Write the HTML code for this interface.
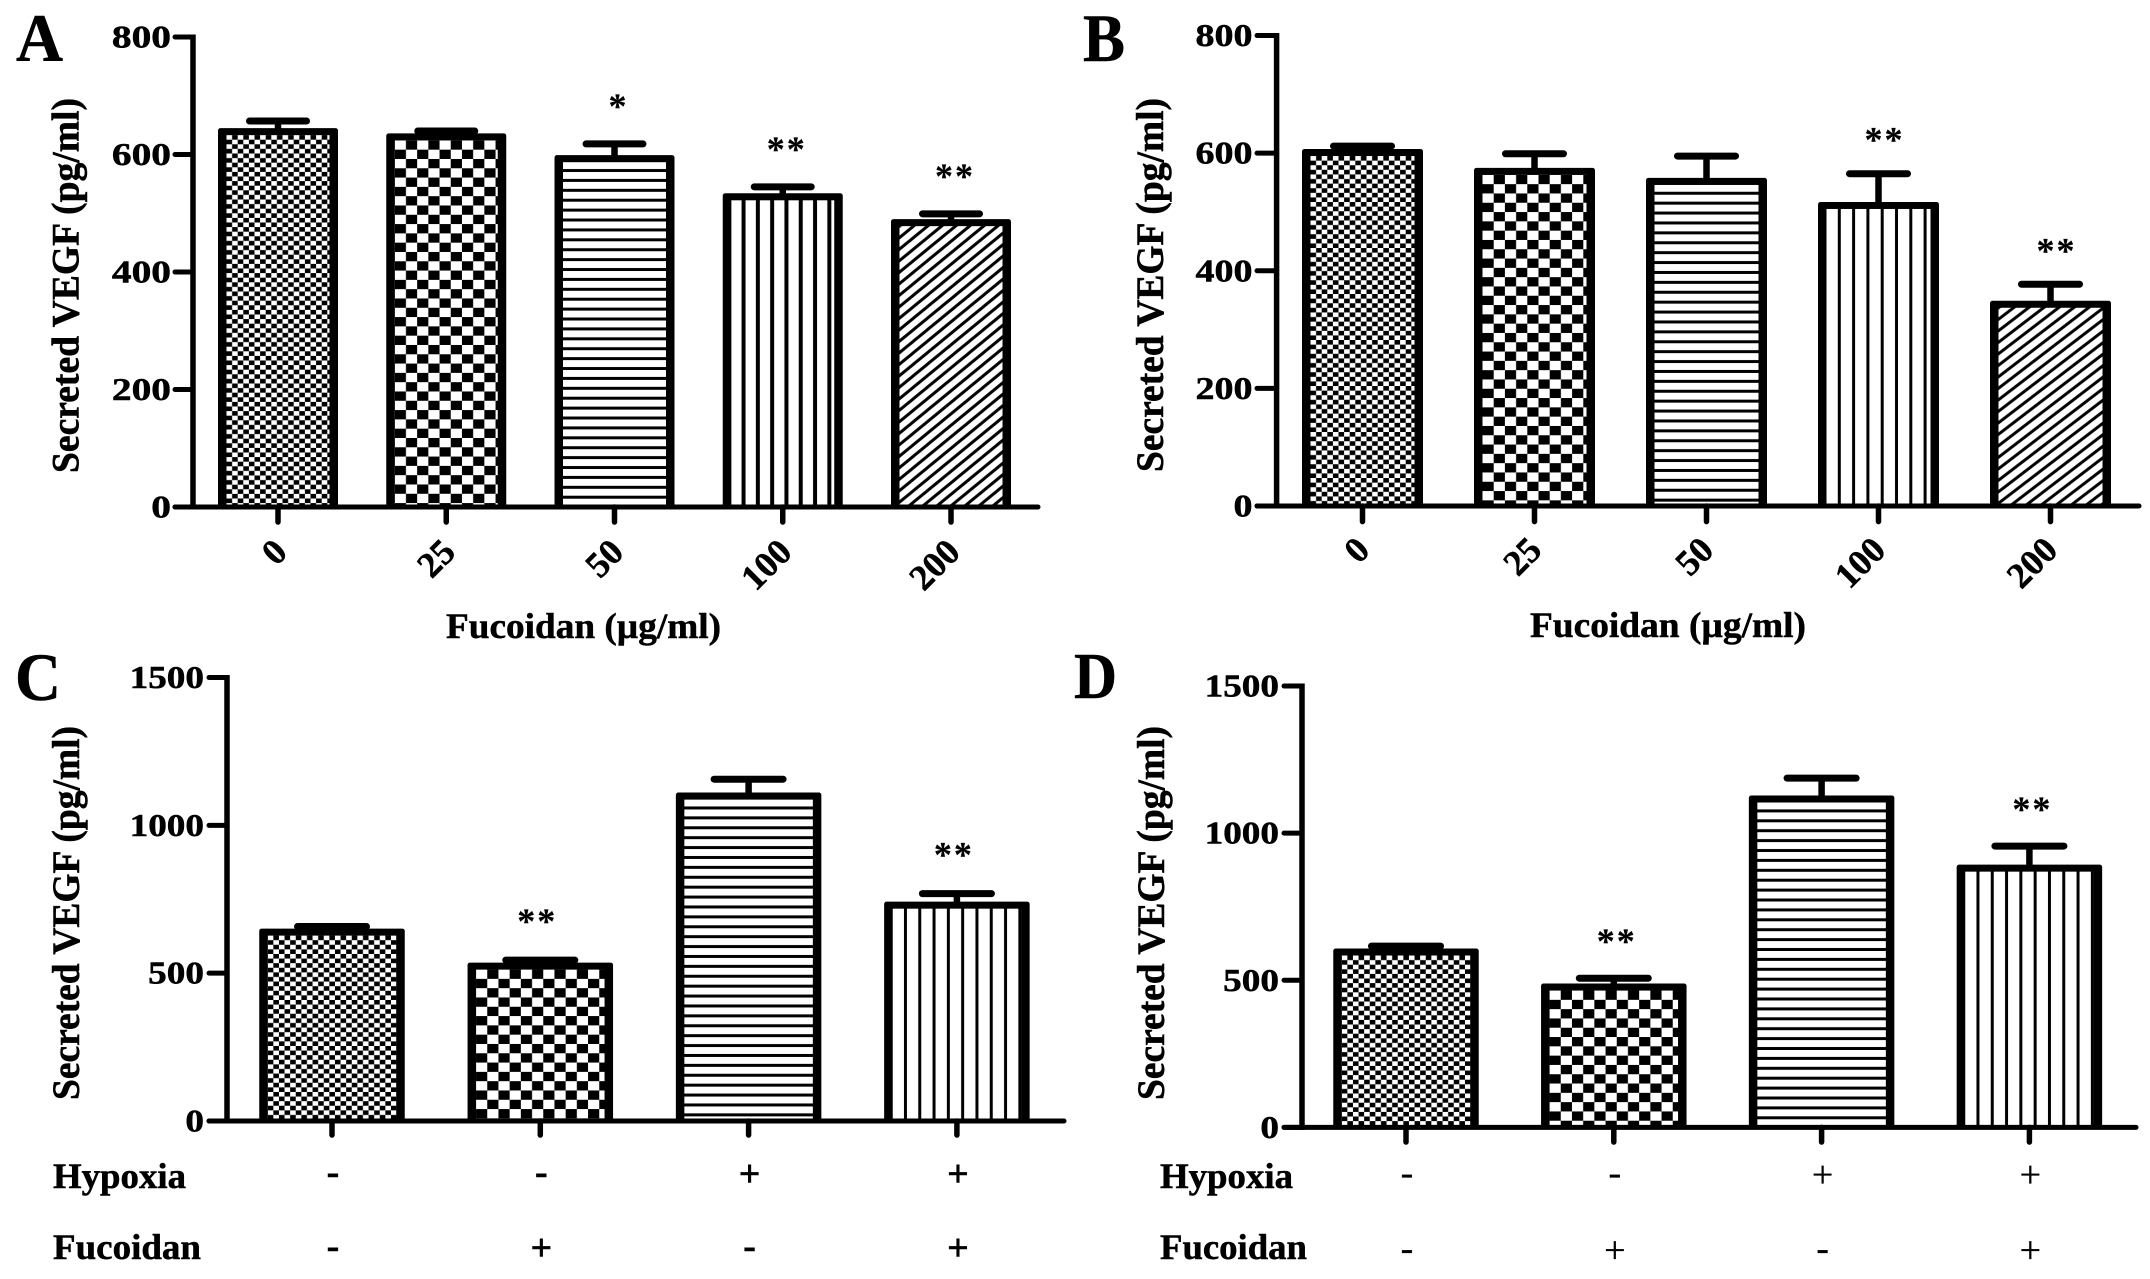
<!DOCTYPE html>
<html lang="en">
<head>
<meta charset="utf-8">
<title>Secreted VEGF bar charts</title>
<style>
html,body{margin:0;padding:0;background:#fff;}
svg{display:block;}
text{font-family:"Liberation Serif",serif;font-weight:700;fill:#000;stroke:#000;stroke-width:.5px;}
</style>
</head>
<body>
<svg id="figure" xmlns="http://www.w3.org/2000/svg" width="2150" height="1279" viewBox="0 0 2150 1279">
<rect width="2150" height="1279" fill="#fff"/>
<defs id="defs"></defs>

<text x="16" y="61" font-size="68" textLength="47" lengthAdjust="spacingAndGlyphs">A</text>
<text x="1083" y="61" font-size="68" textLength="42" lengthAdjust="spacingAndGlyphs">B</text>
<text x="15" y="700" font-size="68" textLength="46" lengthAdjust="spacingAndGlyphs">C</text>
<text x="1074" y="698" font-size="66" textLength="43" lengthAdjust="spacingAndGlyphs">D</text>

<text transform="translate(78.5,473) rotate(-90)" font-size="39" textLength="375" lengthAdjust="spacingAndGlyphs">Secreted VEGF (pg/ml)</text>
<text transform="translate(1163,472) rotate(-90)" font-size="39" textLength="374" lengthAdjust="spacingAndGlyphs">Secreted VEGF (pg/ml)</text>
<text transform="translate(79,1100) rotate(-90)" font-size="39" textLength="374" lengthAdjust="spacingAndGlyphs">Secreted VEGF (pg/ml)</text>
<text transform="translate(1164,1100) rotate(-90)" font-size="39" textLength="374" lengthAdjust="spacingAndGlyphs">Secreted VEGF (pg/ml)</text>

<text x="446" y="638" font-size="36" textLength="275" lengthAdjust="spacingAndGlyphs">Fucoidan (µg/ml)</text>
<text x="1530" y="637" font-size="36" textLength="276" lengthAdjust="spacingAndGlyphs">Fucoidan (µg/ml)</text>

<text x="53" y="1188" font-size="36" textLength="133" lengthAdjust="spacingAndGlyphs">Hypoxia</text>
<text x="53" y="1259" font-size="36" textLength="148" lengthAdjust="spacingAndGlyphs">Fucoidan</text>
<text x="1160" y="1188" font-size="36" textLength="133" lengthAdjust="spacingAndGlyphs">Hypoxia</text>
<text x="1160" y="1259" font-size="36" textLength="147" lengthAdjust="spacingAndGlyphs">Fucoidan</text>
</svg>

<script>
// ---- chart data ----
const doseCategories = ['0', '25', '50', '100', '200'];
const doseTicks = [0, 200, 400, 600, 800];
const comboTicks = [0, 500, 1000, 1500];

const panelAValues = [639, 630, 593, 528, 484];
const panelAErrorTops = [657, 640, 618, 545, 499];
const panelAStars = ['', '', '*', '**', '**'];

const panelBValues = [601, 569, 552, 511, 343];
const panelBErrorTops = [612, 599, 595, 565, 377];
const panelBStars = ['', '', '', '**', '**'];

const panelCValues = [639, 524, 1099, 730];
const panelCErrorTops = [658, 544, 1156, 769];
const panelCStars = ['', '**', '', '**'];

const panelDValues = [596, 477, 1116, 881];
const panelDErrorTops = [616, 507, 1187, 956];
const panelDStars = ['', '**', '', '**'];

const hypoxiaSigns = ['-', '-', '+', '+'];
const fucoidanSigns = ['-', '+', '-', '+'];

const fillKinds = ['fine', 'checker', 'hlines', 'vlines', 'diag'];
const comboFillKinds = ['fine', 'checker', 'hlines', 'vlines'];

// ---- panel layouts ----
const panels = [
  {id:'a', values:panelAValues, errs:panelAErrorTops, stars:panelAStars, cats:doseCategories, ticks:doseTicks, kinds:fillKinds, max:800,
   axisX:193, yTop:37, y0:507, left:175, right:1038, first:278, step:168.25, barW:120, capW:64, tickEnd:522, labelRight:171, digitW:19.7,
   starGap:41, starDx:4, catDx:11, catDy:47, vlineW:4, diagW:14, diagH:11.5},
  {id:'b', values:panelBValues, errs:panelBErrorTops, stars:panelBStars, cats:doseCategories, ticks:doseTicks, kinds:fillKinds, max:800,
   axisX:1276.6, yTop:35.5, y0:506, left:1257, right:2139, first:1362.5, step:172, barW:121, capW:65, tickEnd:521.6, labelRight:1252.5, digitW:19,
   starGap:37, starDx:6, catDx:9, catDy:46, vlineW:3, diagW:15, diagH:11.5},
  {id:'c', values:panelCValues, errs:panelCErrorTops, stars:panelCStars, ticks:comboTicks, kinds:comboFillKinds, max:1500,
   axisX:227, yTop:677.5, y0:1121, left:209, right:1064, first:332, step:208.3, barW:145.5, capW:76, tickEnd:1135, labelRight:204, digitW:18.6,
   starGap:42, starDx:-3, vlineW:3, diagW:15, diagH:11.5, signWeight:700, signStroke:.5, row1:1177.5, row2:1251.5},
  {id:'d', values:panelDValues, errs:panelDErrorTops, stars:panelDStars, ticks:comboTicks, kinds:comboFillKinds, max:1500,
   axisX:1302, yTop:686, y0:1127.4, left:1284, right:2136, first:1406, step:207.8, barW:145.5, capW:76, tickEnd:1142, labelRight:1279, digitW:18.6,
   starGap:40, starDx:3, vlineW:3, diagW:15, diagH:11.5, signWeight:400, signStroke:.3, row1:1178, row2:1253.5}
];

const NS = 'http://www.w3.org/2000/svg';
const svg = document.getElementById('figure');
const defs = document.getElementById('defs');

function make(tag, attrs, parent) {
  const node = document.createElementNS(NS, tag);
  for (const k in attrs) node.setAttribute(k, attrs[k]);
  (parent || svg).appendChild(node);
  return node;
}

function makePattern(id, kind, ox, oy, p) {
  let w, h;
  if (kind === 'fine') { w = 11.2; h = 9.2; }
  else if (kind === 'checker') { w = 22.4; h = 18.6; }
  else if (kind === 'hlines') { w = 10; h = 9.9; }
  else if (kind === 'vlines') { w = 14.3; h = 10; }
  else { w = p.diagW; h = p.diagH; }
  const pat = make('pattern', {id:id, patternUnits:'userSpaceOnUse', x:ox, y:oy, width:w, height:h}, defs);
  make('rect', {width:w, height:h, fill:'#fff'}, pat);
  if (kind === 'fine' || kind === 'checker') {
    make('rect', {x:w/2, y:0, width:w/2, height:h/2, fill:'#000'}, pat);
    make('rect', {x:0, y:h/2, width:w/2, height:h/2, fill:'#000'}, pat);
  } else if (kind === 'hlines') {
    make('rect', {x:0, y:h-3, width:w, height:3, fill:'#000'}, pat);
  } else if (kind === 'vlines') {
    make('rect', {x:w-p.vlineW, y:0, width:p.vlineW, height:h, fill:'#000'}, pat);
  } else {
    make('path', {d:'M-' + w + ' ' + (2*h) + 'L' + (2*w) + ' -' + h + 'M0 ' + (2*h) + 'L' + (2*w) + ' 0M-' + w + ' ' + h + 'L' + w + ' -' + h, stroke:'#000', 'stroke-width':3, fill:'none'}, pat);
  }
}

panels.forEach(function (p) {
  const yScale = function (v) { return p.y0 - (v / p.max) * (p.y0 - p.yTop); };
  const xScale = function (i) { return p.first + i * p.step; };
  const group = make('g', {});
  
  

  // bars with error bars
  p.values.forEach(function (v, i) {
    const cx = xScale(i);
    const top = yScale(v);
    const errY = yScale(p.errs[i]);

    const stem = make('line', {x1:cx, x2:cx, y1:top, y2:errY, stroke:'#000', 'stroke-width':6.5}, group);
    
    

    const half = p.capW / 2 - 3.5;
    const cap = make('line', {x1:cx - half, x2:cx + half, y1:errY, y2:errY, stroke:'#000', 'stroke-width':7, 'stroke-linecap':'round'}, group);
    
    

    const sideW = 8.5;
    const topW = 7;
    const outerX = cx - p.barW / 2;
    const outerY = top - topW / 2;
    const bar = make('rect', {x:outerX, y:outerY, width:p.barW, height:Math.max(0, p.y0 - outerY), rx:2.5, fill:'#000'}, group);
    
    

    const innerX = outerX + sideW;
    const innerY = top + topW / 2;
    const pid = 'fill-' + p.id + '-' + i;
    makePattern(pid, p.kinds[i], innerX, innerY, p);
    const fill = make('rect', {x:innerX, y:innerY, width:p.barW - 2 * sideW, height:Math.max(0, p.y0 - innerY), fill:'url(#' + pid + ')'}, group);
    
    

    if (p.stars[i]) {
      const st = make('text', {x:cx + p.starDx, y:errY - p.starGap + 15, 'font-size':36, 'text-anchor':'middle', 'letter-spacing':2, style:'stroke-width:.2px'}, group);
      st.textContent = p.stars[i];
      
      
    }
  });

  // y axis
  const yAxis = make('line', {x1:p.axisX, x2:p.axisX, y1:p.yTop - 2.5, y2:p.y0 + 2.5, stroke:'#000', 'stroke-width':5.5}, group);
  
  

  p.ticks.forEach(function (t) {
    const ty = yScale(t);
    const mark = make('line', {x1:p.left, x2:p.axisX, y1:ty, y2:ty, stroke:'#000', 'stroke-width':5, 'stroke-linecap':'round'}, group);
    
    
    const str = String(t);
    const lab = make('text', {x:p.labelRight, y:ty + 10.5, 'font-size':32, 'text-anchor':'end', textLength:str.length * p.digitW, lengthAdjust:'spacingAndGlyphs'}, group);
    lab.textContent = str;
    
    
  });

  // x axis
  const xAxis = make('line', {x1:p.left, x2:p.right, y1:p.y0, y2:p.y0, stroke:'#000', 'stroke-width':5, 'stroke-linecap':'round'}, group);
  
  

  p.values.forEach(function (v, i) {
    const cx = xScale(i);
    const mark = make('line', {x1:cx, x2:cx, y1:p.y0, y2:p.tickEnd, stroke:'#000', 'stroke-width':5.5, 'stroke-linecap':'round'}, group);
    
    

    if (p.cats) {
      const ax = cx + p.catDx;
      const ay = p.y0 + p.catDy;
      const lab = make('text', {transform:'translate(' + ax + ',' + ay + ') rotate(-45)', 'font-size':36, 'text-anchor':'end'}, group);
      lab.textContent = p.cats[i];
      
      
    } else {
      const drawSign = function (sign, rowY, rowName) {
        const base = rowY + (sign === '+' ? 9 : 7);
        const s = make('text', {x:cx + 1, y:base, 'font-size':38, 'text-anchor':'middle', style:'font-weight:' + p.signWeight + ';stroke-width:' + p.signStroke + 'px'}, group);
        s.textContent = sign;
        
        
      };
      drawSign(hypoxiaSigns[i], p.row1, 'hypoxia');
      drawSign(fucoidanSigns[i], p.row2, 'fucoidan');
    }
  });
});
</script>
</body>
</html>
